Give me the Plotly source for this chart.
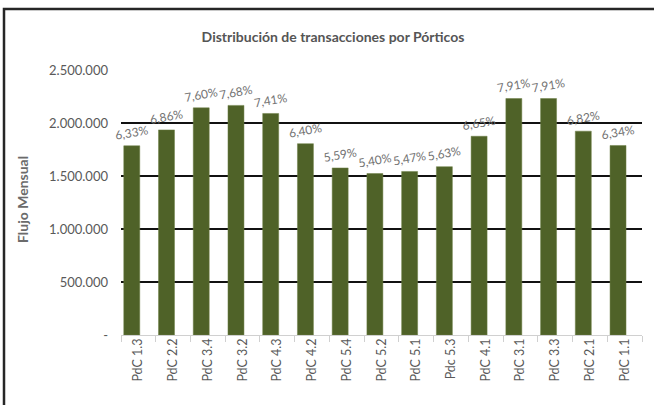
import plotly.graph_objects as go

categories = ["PdC 1.3", "PdC 2.2", "PdC 3.4", "PdC 3.2", "PdC 4.3", "PdC 4.2", "PdC 5.4",
              "PdC 5.2", "PdC 5.1", "Pdc 5.3", "PdC 4.1", "PdC 3.1", "PdC 3.3", "PdC 2.1", "PdC 1.1"]
flujo = [1785000, 1935000, 2143000, 2166000, 2090000, 1805000, 1576000,
         1523000, 1543000, 1588000, 1875000, 2231000, 2231000, 1923000, 1788000]
pct_labels = ["6,33%", "6,86%", "7,60%", "7,68%", "7,41%", "6,40%", "5,59%",
              "5,40%", "5,47%", "5,63%", "6,65%", "7,91%", "7,91%", "6,82%", "6,34%"]
y_tickvals = [0, 500000, 1000000, 1500000, 2000000, 2500000]
y_ticktext = ["-", "500.000", "1.000.000", "1.500.000", "2.000.000", "2.500.000"]

W, H = 654, 405
ml, mr, mt, mb = 121, 12, 70, 70
pw, ph = W - ml - mr, H - mt - mb

fig = go.Figure(go.Bar(
    x=categories, y=flujo, text=pct_labels,
    textposition="outside", textangle=-10, cliponaxis=False,
    constraintext="none",
    textfont=dict(family="Lato", size=12, color="#727272"),
    marker=dict(color="#4f6228", line=dict(color="#6d7f45", width=0.5)),
    width=0.46, offset=-0.42,
))

fig.update_layout(
    width=W, height=H,
    margin=dict(l=ml, r=mr, t=mt, b=mb),
    paper_bgcolor="white", plot_bgcolor="white",
    showlegend=False,
    font=dict(family="Lato", color="#595959"),
    title=dict(text="<b>Distribución de transacciones por Pórticos</b>",
               x=(333) / W, xanchor="center", y=1 - 37 / H, yanchor="middle",
               font=dict(family="Lato", size=14, color="#555555")),
    xaxis=dict(
        type="category", tickangle=-90, ticks="outside", tickson="boundaries",
        ticklen=6, tickcolor="#d0d0d0", showline=False, showgrid=False,
        tickfont=dict(family="Lato", size=12.5, color="#595959"),
    ),
    yaxis=dict(
        range=[0, 2500000], tickvals=y_tickvals, ticktext=y_ticktext,
        showgrid=True, gridcolor="#111111", gridwidth=1.6,
        zeroline=True, zerolinecolor="#d0d0d0", zerolinewidth=1.2,
        ticks="", ticklabelstandoff=12,
        tickfont=dict(family="Lato", size=13, color="#595959"),
    ),
    bargap=0.54,
    annotations=[dict(
        text="<b>Flujo Mensual</b>", textangle=-90,
        xref="paper", yref="paper",
        x=(22 - ml) / pw, y=(H - mb - 200) / ph,
        xanchor="center", yanchor="middle", showarrow=False,
        font=dict(family="Lato", size=14, color="#6b6b6b"),
    )],
    shapes=[dict(
        type="rect", xref="paper", yref="paper",
        x0=(4 - ml) / pw, x1=(W + 10 - ml) / pw,
        y0=(H - mb - (H + 10)) / ph, y1=(H - mb - 9) / ph,
        line=dict(color="#262626", width=2.5), fillcolor="rgba(0,0,0,0)",
        layer="above",
    )],
)

fig.write_html("out.html")
